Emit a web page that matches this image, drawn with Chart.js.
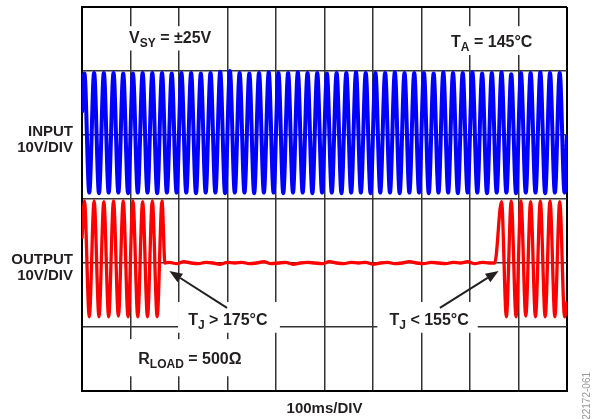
<!DOCTYPE html>
<html>
<head>
<meta charset="utf-8">
<title>Thermal shutdown: input and output vs time</title>
<script src="https://cdn.jsdelivr.net/npm/chart.js@4.4.1/dist/chart.umd.min.js"></script>
<style>
    html, body { margin: 0; padding: 0; background: #fff; }
    #wrap { width: 592px; height: 419px; }
</style>
</head>
<body>
<div id="wrap"><canvas id="scope" width="592" height="419"></canvas></div>
<script>
// scope readout: time in ms, amplitude in volts (10 V per division)
const inputTimes = [
    0,
    5, 15, 25, 35, 45, 55, 65, 75, 85, 95,
    105, 115, 125, 135, 145, 155, 165, 175, 185, 195,
    205, 215, 225, 235, 245, 255, 265, 275, 285, 295,
    305, 315, 325, 335, 345, 355, 365, 375, 385, 395,
    405, 415, 425, 435, 445, 455, 465, 475, 485, 495,
    505, 515, 525, 535, 545, 555, 565, 575, 585, 595,
    605, 615, 625, 635, 645, 655, 665, 675, 685, 695,
    705, 715, 725, 735, 745, 755, 765, 775, 785, 795,
    805, 815, 825, 835, 845, 855, 865, 875, 885, 895,
    905, 915, 925, 935, 945, 955, 965, 975, 985, 995,
    1000
];
const inputVolts = [
    3.5,
    9.6, -9.0, 9.7, -9.1, 9.7, -9.0, 9.7, -9.0, 9.6, -9.1,
    9.6, -9.0, 9.7, -9.0, 9.7, -9.1, 9.7, -9.0, 9.6, -9.0,
    9.7, -9.0, 9.7, -9.1, 9.6, -9.0, 9.7, -9.0, 9.9, -9.1,
    10.0, -9.0, 9.7, -9.0, 9.6, -9.1, 9.7, -9.0, 9.8, -9.0,
    9.7, -9.1, 9.7, -9.0, 9.8, -9.0, 9.7, -9.1, 9.7, -9.0,
    9.6, -9.0, 9.7, -9.1, 9.7, -9.0, 9.8, -9.0, 9.7, -9.1,
    9.7, -9.0, 9.7, -9.0, 9.8, -9.1, 9.7, -9.0, 9.7, -9.0,
    9.7, -9.1, 9.6, -9.0, 9.8, -9.0, 9.7, -9.1, 9.7, -9.0,
    9.8, -9.0, 9.6, -9.1, 9.7, -9.0, 9.8, -9.0, 9.5, -9.1,
    9.7, -9.0, 9.7, -9.0, 9.8, -9.1, 9.7, -9.0, 9.7, -9.0,
    0.0
];

const outputTimes = [
    0, 5, 15, 25, 35, 45, 55, 65, 75, 85, 95, 105, 115, 125, 135, 145, 155, 165, 171,
    180, 195, 210, 225, 240, 255, 270, 285, 300, 315,
    330, 345, 360, 375, 390, 405, 420, 435, 450, 465,
    480, 495, 510, 525, 540, 555, 570, 585, 600, 615,
    630, 645, 660, 675, 690, 705, 720, 735, 750, 765,
    780, 795, 810, 825, 840, 851,
    865, 875, 885, 895, 905, 915, 925, 935, 945, 955, 965, 975, 985, 995, 1000
];
const outputVolts = [
    3.8, 9.7, -8.4, 9.7, -8.4, 9.6, -8.4, 9.7, -8.3, 9.7, -8.4, 9.7, -8.4, 9.6, -8.4, 9.7, -8.4, 9.7, 0.0,
    0.1, -0.1, 0.2, 0.0, -0.1, 0.1, 0.0, -0.2, 0.1, 0.0,
    0.1, -0.1, 0.0, 0.2, -0.1, 0.0, 0.1, -0.2, 0.0, 0.1,
    0.0, -0.1, 0.2, 0.0, -0.1, 0.1, 0.0, 0.1, -0.2, 0.0,
    0.1, -0.1, 0.0, 0.2, 0.0, -0.1, 0.1, 0.0, -0.1, 0.1,
    0.0, 0.2, -0.1, 0.1, 0.0, 0.0,
    9.6, -8.4, 9.7, -8.4, 9.7, -8.3, 9.6, -8.4, 9.7, -8.4, 9.7, -8.4, 9.6, -8.4, -6.0
];

const channelNames = ['INPUT', 'OUTPUT'];
const channelOffsetDiv = [1, -1];   // where each trace's 0 V sits on the screen
const voltsPerDiv = 10;
const voltLabel = '10V/DIV';
const timeLabel = '100ms/DIV';

const FONT = '"Liberation Sans", Arial, Helvetica, sans-serif';
const INK = '#231f20';

function toTrace(times, volts, offset) {
    return times.map((t, i) => ({ x: t, y: volts[i] / voltsPerDiv + offset }));
}

// text with subscripts, parts = [[text, isSub], ...]
function drawRich(ctx, x, y, parts, size) {
    let cx = x;
    parts.forEach(([text, sub]) => {
        ctx.font = `bold ${sub ? Math.round(size * 0.75) : size}px ${FONT}`;
        ctx.fillText(text, cx, sub ? y + 4 : y);
        cx += ctx.measureText(text).width;
    });
}

function drawArrow(ctx, x0, y0, x1, y1) {
    const ang = Math.atan2(y1 - y0, x1 - x0);
    const len = 13, half = 5;
    const bx = x1 - len * Math.cos(ang), by = y1 - len * Math.sin(ang);
    ctx.beginPath();
    ctx.moveTo(x0, y0);
    ctx.lineTo(bx, by);
    ctx.stroke();
    ctx.beginPath();
    ctx.moveTo(x1, y1);
    ctx.lineTo(bx + half * Math.sin(ang), by - half * Math.cos(ang));
    ctx.lineTo(bx - half * Math.sin(ang), by + half * Math.cos(ang));
    ctx.closePath();
    ctx.fill();
}

const scopeNotes = {
    id: 'scopeNotes',
    beforeDatasetsDraw(chart) {
        const { ctx, scales: { x, y } } = chart;
        // white patches behind the in-screen labels (they hide the graticule)
        const boxes = [
            [91, 280, 2.70, 2.32],
            [745, 940, 2.70, 2.25],
            [198, 408, -1.61, -2.09],
            [609, 816, -1.61, -2.09],
            [95, 346, -2.19, -2.77]
        ];
        ctx.save();
        ctx.fillStyle = '#fff';
        boxes.forEach(([t0, t1, d0, d1]) => {
            const px0 = x.getPixelForValue(t0), px1 = x.getPixelForValue(t1);
            const py0 = y.getPixelForValue(d0), py1 = y.getPixelForValue(d1);
            ctx.fillRect(px0, py0, px1 - px0, py1 - py0);
        });
        ctx.restore();
    },
    afterDatasetsDraw(chart) {
        const { ctx, chartArea: area, scales: { x, y } } = chart;
        ctx.save();
        ctx.fillStyle = INK;
        ctx.strokeStyle = INK;
        ctx.textBaseline = 'alphabetic';
        ctx.textAlign = 'left';

        const notes = [
            [97, 2.43, [['V', false], ['SY', true], [' = ±25V', false]]],
            [761, 2.38, [['T', false], ['A', true], [' = 145°C', false]]],
            [219, -1.97, [['T', false], ['J', true], [' > 175°C', false]]],
            [634, -1.97, [['T', false], ['J', true], [' < 155°C', false]]],
            [116, -2.58, [['R', false], ['LOAD', true], [' = 500Ω', false]]]
        ];
        notes.forEach(([t, d, parts]) => {
            drawRich(ctx, x.getPixelForValue(t), y.getPixelForValue(d), parts, 16);
        });

        // arrows from the junction temperature labels to the trip points
        ctx.lineWidth = 2;
        drawArrow(ctx, x.getPixelForValue(299), y.getPixelForValue(-1.70),
                  x.getPixelForValue(180), y.getPixelForValue(-1.125));
        drawArrow(ctx, x.getPixelForValue(738), y.getPixelForValue(-1.70),
                  x.getPixelForValue(859), y.getPixelForValue(-1.125));

        // channel labels left of the screen
        ctx.font = `bold 15px ${FONT}`;
        ctx.textAlign = 'right';
        channelNames.forEach((name, i) => {
            const zero = y.getPixelForValue(channelOffsetDiv[i]);
            ctx.fillText(name, area.left - 9, zero + 1);
            ctx.fillText(voltLabel, area.left - 9, zero + 17);
        });

        // time base under the screen
        ctx.textAlign = 'center';
        ctx.fillText(timeLabel, (area.left + area.right) / 2, area.bottom + 22);

        // figure number on the right edge
        ctx.font = `10px ${FONT}`;
        ctx.fillStyle = '#9a9a9a';
        ctx.translate(590, 372);
        ctx.rotate(-Math.PI / 2);
        ctx.textAlign = 'right';
        ctx.fillText('22172-061', 0, 0);
        ctx.restore();
    }
};

const edge = (scale, v) => v === scale.min || v === scale.max;

new Chart(document.getElementById('scope'), {
    type: 'line',
    data: {
        datasets: [
            {
                label: channelNames[0],
                data: toTrace(inputTimes, inputVolts, channelOffsetDiv[0]),
                borderColor: '#0000ff',
                borderWidth: 4,
                cubicInterpolationMode: 'monotone',
                pointRadius: 0,
                fill: false,
                clip: 0
            },
            {
                label: channelNames[1],
                data: toTrace(outputTimes, outputVolts, channelOffsetDiv[1]),
                borderColor: '#ff0000',
                borderWidth: 3.3,
                cubicInterpolationMode: 'monotone',
                pointRadius: 0,
                fill: false,
                clip: 0
            }
        ]
    },
    options: {
        responsive: false,
        animation: false,
        events: [],
        layout: { padding: { left: 82, top: 7, right: 25, bottom: 28 } },
        plugins: { legend: { display: false }, tooltip: { enabled: false } },
        scales: {
            x: {
                type: 'linear',
                min: 0,
                max: 1000,
                ticks: { display: false, stepSize: 100 },
                grid: {
                    drawTicks: false,
                    color: c => edge(c.scale, c.tick.value) ? '#000' : '#333',
                    lineWidth: c => edge(c.scale, c.tick.value) ? 2 : 1.5
                },
                border: { display: true, color: '#000', width: 2 }
            },
            y: {
                type: 'linear',
                min: -3,
                max: 3,
                ticks: { display: false, stepSize: 1 },
                grid: {
                    drawTicks: false,
                    color: c => edge(c.scale, c.tick.value) ? '#000' : '#333',
                    lineWidth: c => edge(c.scale, c.tick.value) ? 2 : 1.5
                },
                border: { display: true, color: '#000', width: 2 }
            }
        }
    },
    plugins: [scopeNotes]
});
</script>
</body>
</html>
